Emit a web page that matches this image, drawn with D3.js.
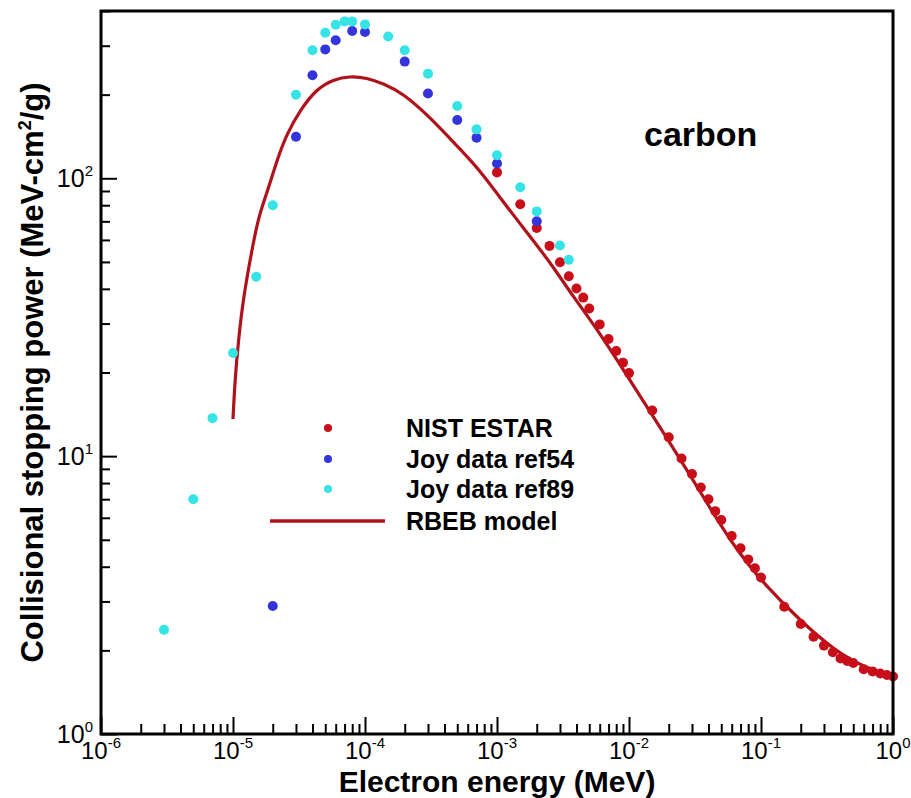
<!DOCTYPE html>
<html>
<head>
<meta charset="utf-8">
<script src="https://cdn.jsdelivr.net/npm/d3@7"></script>
<style>
  html, body { margin: 0; padding: 0; background: #fff; }
  svg { display: block; }
  text { font-family: "Liberation Sans", Arial, Helvetica, sans-serif; }
</style>
</head>
<body>
<svg id="chart" width="911" height="798"></svg>
<script>
// ---------------- data ----------------
const nistE = [1e-3,1.5e-3,2e-3,2.5e-3,3e-3,3.5e-3,4e-3,4.5e-3,5e-3,6e-3,7e-3,8e-3,9e-3,1e-2,
  1.5e-2,2e-2,2.5e-2,3e-2,3.5e-2,4e-2,4.5e-2,5e-2,6e-2,7e-2,8e-2,9e-2,0.1,
  0.15,0.2,0.25,0.3,0.35,0.4,0.45,0.5,0.6,0.7,0.8,0.9,1.0];
const nistS = [105,80.6,66.2,57.1,49.9,44.4,40.1,37.2,34.0,29.8,26.4,23.9,21.7,19.9,
  14.6,11.7,9.8,8.62,7.71,7.0,6.34,5.89,5.16,4.66,4.25,3.95,3.66,
  2.87,2.49,2.24,2.08,1.97,1.87,1.83,1.80,1.71,1.68,1.65,1.63,1.61];

const joy54E = [2e-5,3e-5,4e-5,5e-5,6e-5,8e-5,1e-4,2e-4,3e-4,5e-4,7e-4,1e-3,2e-3];
const joy54S = [2.89,141,235,291,314,339,336,263,202,162,140,113,70];

const joy89E = [3e-6,5e-6,7e-6,1e-5,1.5e-5,2e-5,3e-5,4e-5,5e-5,6e-5,7e-5,8e-5,1e-4,
  1.5e-4,2e-4,3e-4,5e-4,7e-4,1e-3,1.5e-3,2e-3,3e-3,3.5e-3];
const joy89S = [2.37,7.0,13.7,23.5,44.2,80,200,289,334,357,367,367,358,
  324,289,238,182,150,121,92.8,76,57.3,50.9];

const rbebE = [1.0e-5,1.035e-5,1.10e-5,1.20e-5,1.39e-5,1.56e-5,1.80e-5,2.19e-5,2.55e-5,3.22e-5,
  4.31e-5,5.75e-5,7.69e-5,1.03e-4,1.38e-4,1.95e-4,3.10e-4,4.95e-4,7.43e-4,1.19e-3,1.88e-3,
  2.67e-3,3.79e-3,5.37e-3,9.61e-3,1.72e-2,3.07e-2,6.17e-2,0.110,0.197,0.353,0.632,1.0];
const rbebS = [13.6,18.8,26.2,37.4,55.1,72.6,88,119,144,176,
  210,227,233,230,219,202,166,131,107,78.8,59.8,
  48.0,37.4,30.0,19.6,12.7,8.20,4.72,3.39,2.57,2.01,1.72,1.61];

const xMajor = [1e-6,1e-5,1e-4,1e-3,1e-2,1e-1,1];
const xMajorExp = ["-6","-5","-4","-3","-2","-1","0"];
const yMajor = [1,10,100];
const yMajorExp = ["0","1","2"];

const seriesNames = ["NIST ESTAR","Joy data ref54","Joy data ref89","RBEB model"];
const colors = {nist:"#c80f19", joy54:"#3434dc", joy89:"#36e4e6", rbeb:"#b0121b"};

// ---------------- layout ----------------
const L = 101, R = 893, T = 11, B = 734;
const svg = d3.select("#chart");
const x = d3.scaleLog().domain([1e-6, 1]).range([L, R]);
const y = d3.scaleLog().domain([1, 400]).range([B, T]);

// minor tick values
const xMinor = [];
for (let e = -6; e < 0; e++) for (let k = 2; k <= 9; k++) xMinor.push(k * Math.pow(10, e));
const yMinor = [];
for (let e = 0; e < 3; e++) for (let k = 2; k <= 9; k++) { const v = k * Math.pow(10, e); if (v <= 400) yMinor.push(v); }

// axes (ticks inside)
const gx = svg.append("g").attr("transform", `translate(0,${B})`);
gx.call(d3.axisBottom(x).tickValues(xMinor).tickSize(-10).tickFormat(""));
gx.append("g").call(d3.axisBottom(x).tickValues(xMajor).tickSize(-17).tickFormat(""));
gx.selectAll("path.domain").remove();
gx.selectAll(".tick line").attr("stroke", "#000").attr("stroke-width", 2);

const gy = svg.append("g").attr("transform", `translate(${L},0)`);
gy.call(d3.axisLeft(y).tickValues(yMinor).tickSize(-9).tickFormat(""));
gy.append("g").call(d3.axisLeft(y).tickValues(yMajor).tickSize(-16).tickFormat(""));
gy.selectAll("path.domain").remove();
gy.selectAll(".tick line").attr("stroke", "#000").attr("stroke-width", 2);

// tick labels with superscripts
xMajor.forEach((v, i) => {
  const t = svg.append("text").attr("x", x(v)).attr("y", 759)
    .attr("text-anchor", "middle").attr("font-size", 24).attr("fill", "#000");
  t.append("tspan").text("10");
  t.append("tspan").attr("dy", -11).attr("font-size", 15).text(xMajorExp[i]);
});
yMajor.forEach((v, i) => {
  const t = svg.append("text").attr("x", 93).attr("y", y(v) + 9)
    .attr("text-anchor", "end").attr("font-size", 25).attr("fill", "#000");
  t.append("tspan").text("10");
  t.append("tspan").attr("dy", -11).attr("font-size", 15).text(yMajorExp[i]);
});

// RBEB line
const line = d3.line().x(d => x(d[0])).y(d => y(d[1])).curve(d3.curveBasis);
svg.append("path").datum(rbebE.map((e, i) => [e, rbebS[i]]))
  .attr("d", line).attr("fill", "none").attr("stroke", colors.rbeb).attr("stroke-width", 3.2);

// scatter series
function dots(E, S, col) {
  svg.append("g").selectAll("circle").data(E.map((e, i) => [e, S[i]])).join("circle")
    .attr("cx", d => x(d[0])).attr("cy", d => y(d[1])).attr("r", 5).attr("fill", col);
}
dots(nistE, nistS, colors.nist);
dots(joy54E, joy54S, colors.joy54);
dots(joy89E, joy89S, colors.joy89);

// frame
svg.append("rect").attr("x", L).attr("y", T).attr("width", R - L).attr("height", B - T)
  .attr("fill", "none").attr("stroke", "#000").attr("stroke-width", 3);

// legend
const lg = svg.append("g");
const legY = [428, 459, 489, 521];
const legCol = [colors.nist, colors.joy54, colors.joy89];
legCol.forEach((c, i) => {
  lg.append("circle").attr("cx", 328).attr("cy", legY[i]).attr("r", 4).attr("fill", c);
});
lg.append("line").attr("x1", 270).attr("x2", 385).attr("y1", legY[3]).attr("y2", legY[3])
  .attr("stroke", colors.rbeb).attr("stroke-width", 3.5);
seriesNames.forEach((n, i) => {
  lg.append("text").attr("x", 406).attr("y", legY[i] + 9).attr("font-size", 25)
    .attr("font-weight", "bold").attr("fill", "#000").text(n);
});

// annotation
svg.append("text").attr("x", 644).attr("y", 146).attr("font-size", 34)
  .attr("font-weight", "bold").attr("fill", "#000").text("carbon");

// axis titles
svg.append("text").attr("x", (L + R) / 2).attr("y", 792).attr("text-anchor", "middle")
  .attr("font-size", 30).attr("font-weight", "bold").attr("fill", "#000")
  .text("Electron energy (MeV)");
const yt = svg.append("text").attr("transform", `translate(43,${(T + B) / 2}) rotate(-90)`)
  .attr("text-anchor", "middle").attr("font-size", 31).attr("font-weight", "bold").attr("fill", "#000");
yt.append("tspan").text("Collisional stopping power (MeV-cm");
yt.append("tspan").attr("dy", -12).attr("font-size", 18).text("2");
yt.append("tspan").attr("dy", 12).text("/g)");
</script>
</body>
</html>
